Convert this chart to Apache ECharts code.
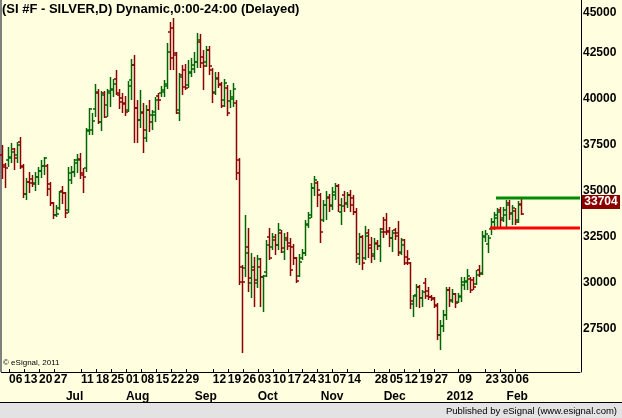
<!DOCTYPE html>
<html><head><meta charset="utf-8">
<script src="https://cdn.jsdelivr.net/npm/echarts@6/dist/echarts.min.js"></script>
<style>html,body{margin:0;padding:0;background:#FFFFE0;}#c{width:622px;height:418px;}</style>
</head><body><div id="c"></div>
<script>
const titleText = '(SI #F - SILVER,D) Dynamic,0:00-24:00 (Delayed)';
const footerText = 'Published by eSignal (www.esignal.com)';
const copyrightText = '\u00A9 eSignal, 2011';

const open = [36919,36375,36647,36756,37245,36919,37626,36267,34799,35452,
35615,35397,35723,36049,36321,36321,35343,34310,33658,34038,
34962,34853,33930,35560,35995,36484,36701,35941,36212,38278,
38278,39419,40289,38712,40289,39636,40397,40452,41049,40180,
40017,39691,39365,40995,41810,39473,38821,39202,37843,39365,
39093,39093,40125,40289,40343,40669,43604,43821,42354,39365,
41267,41539,40723,41376,41593,41973,43060,42245,41973,42626,
41539,40343,41104,40723,39908,40560,39854,40071,39745,35941,
30832,30777,31919,29962,30669,29962,30832,30288,30560,32462,
31919,32299,32027,32679,31647,32408,32136,31919,31320,30342,
31320,31592,33169,33658,35125,35397,34745,33386,34202,34582,
34202,34745,35234,33821,34745,34256,34745,34582,33821,31320,
32462,31320,32679,32027,31538,32136,31973,32897,33386,32788,
32408,32842,32679,31647,32299,31375,31049,28821,29310,29745,
29147,29962,29527,29201,29147,28766,27136,27625,28223,29582,
28984,29364,28929,29201,29853,30016,30179,30125,29908,30669,
30506,32462,32082,32897,33277,33495,33930,33495,33658,34310,
33712,33875,33386,34256];
const high = [37462,36484,37354,37571,37299,37626,37897,36430,35669,35995,
35832,35995,36267,36647,36810,36430,35452,34365,34202,34962,
35234,34908,36267,36321,36701,36973,37027,36212,38386,39473,
39202,40778,40506,40397,40397,40506,41158,41049,41539,40506,
40289,40125,40941,42136,42354,39908,40452,39745,39636,39908,
39365,40071,40289,40669,40995,43006,44147,44365,42517,41376,
41810,41865,42082,42191,42517,43550,43495,42626,42843,42843,
41647,41430,41430,40886,41049,40723,40452,40832,39908,36756,
30940,33658,32951,31592,31375,31484,31320,30397,32299,32951,
32679,32625,33223,32842,32679,32734,32408,32082,31375,31538,
31810,33386,33821,35397,35777,35506,34853,34473,34962,34799,
35180,35397,35343,34582,34962,34908,35017,34745,34038,32679,
32571,33060,32897,32462,32408,32299,32951,33549,33766,33005,
32842,32951,33332,32408,32353,31756,31103,29310,29908,29853,
29582,30234,29745,29310,29201,28875,27951,28495,29745,29745,
29636,29418,29418,30288,30288,30723,30288,30288,30669,30940,
32788,32842,32571,33495,33821,34038,34093,34093,34473,34473,
34202,34038,34419,34582];
const low = [35615,35125,36267,36484,36104,36484,36158,34582,34473,34853,
35180,34962,35288,35669,35832,34690,34147,33440,33549,33930,
34256,33495,33766,35343,35723,35941,35615,34853,35995,38006,
38006,38984,38604,38223,38930,38984,39528,40071,40180,39419,
39202,39039,39256,39908,37571,37571,38386,37027,37626,38169,
38278,38712,39365,40071,40071,40506,41539,41539,39147,38767,
40180,40452,40560,41158,41376,41647,41647,40452,41702,41267,
39745,40180,40560,39473,39528,39039,39473,39528,35560,29853,
26150,30288,29473,29147,28658,29690,28658,28386,30288,31212,
31756,31484,31756,31592,31212,31756,30342,30940,29962,30288,
31212,31429,32951,33495,34690,34093,32136,33277,33386,33821,
33930,34473,33821,33114,33821,34038,33821,33658,31049,30940,
30669,31212,31320,31049,31212,31756,31103,32408,32571,31919,
31647,32299,31429,31484,30940,30940,28549,28114,28658,28603,
28658,29092,29038,28984,28603,26864,26321,27299,27951,28658,
28875,28603,28875,28929,29582,29582,29418,29582,29853,30288,
30397,32190,31592,32571,32842,33005,33005,33277,33005,33386,
33114,33114,33223,33658];
const close = [36267,36212,36810,37082,36756,37462,36321,34799,35452,35397,
35343,35723,36049,36321,36756,35071,34310,33658,33712,34908,
34853,33766,35941,35995,36647,36647,35832,35723,38223,39419,
38767,40343,38712,40180,38984,40289,40506,40778,40289,39799,
39745,39256,40669,41810,39473,38821,39256,38278,39365,38712,
39256,39908,39908,40452,40778,42517,42191,42462,39202,41158,
40615,40560,41430,41810,41973,43169,41919,41756,42626,41756,
40289,41049,40778,39582,40832,39202,39962,40506,36647,30016,
30016,31592,30234,30832,30125,31266,30288,30342,32027,31320,
32462,32027,32842,31864,32299,31973,30669,31320,30071,31103,
31592,33114,33495,35125,35560,35017,32734,34202,34636,34147,
34908,35234,34202,34147,34310,34745,34202,33821,31538,32462,
31049,32516,31864,31429,32082,31973,32734,32734,32734,32408,
32679,32516,31592,32027,31049,31266,28984,29255,29745,29147,
29473,29255,29201,29092,28712,27136,27625,28223,29582,29038,
29364,28875,29255,30016,30071,30342,29582,29745,30397,30451,
32516,32625,32408,33277,33658,33821,33386,33930,34202,33766,
34038,33277,34202,33704];

const weekTickIdx = [2,7,12,17,26,31,36,41,46,51,56,61,70,75,80,85,90,95,100,105,110,115,124,129,134,139,144,152,161,166,171];
const weekTickLabels = ['06','13','20','27','11','18','25','01','08','15','22','29','12','19','26','03','10','17','24','31','07','14','28','05','12','19','27','09','23','30','06'];
const monthTickIdx = [21,41,64,85,106,127,148,168];
const monthTickLabels = ['Jul','Aug','Sep','Oct','Nov','Dec','2012','Feb'];
const yTickValues = [27500,30000,32500,35000,37500,40000,42500,45000];

const levelStart = [165,163];
const levelPrice = [34582,32951];
const levelColor = ['#008C00','#FF0000'];
const lastPrice = 33704;

const slotCount = 193;
const UP = '#006400', DOWN = '#8B0000';
const FONT = 'Liberation Sans, Arial, sans-serif';

const categories = Array.from({length: slotCount}, (_, i) => String(i));
const weekMap = {}; weekTickIdx.forEach((k, j) => weekMap[k] = weekTickLabels[j]);
const monthMap = {}; monthTickIdx.forEach((k, j) => monthMap[k] = monthTickLabels[j]);
const ohlc = open.map((o, i) => [i, o, high[i], low[i], close[i]]);
const levels = levelStart.map((s, j) => [s, levelPrice[j], j]);

const chart = echarts.init(document.getElementById('c'), null, {renderer: 'canvas'});
chart.setOption({
  backgroundColor: '#FFFFE0',
  animation: false,
  title: {text: titleText, left: 2, top: 3, padding: 0,
    textStyle: {fontFamily: FONT, fontSize: 13, fontWeight: 'bold', color: '#000'}},
  grid: {left: 1, top: 0, width: 579, height: 372, containLabel: false},
  xAxis: [{
    type: 'category', data: categories, boundaryGap: true,
    axisLine: {show: true, lineStyle: {color: '#000', width: 1}},
    axisTick: {show: true, inside: true, length: 3, alignWithLabel: true,
      interval: (i) => weekMap[i] !== undefined, lineStyle: {color: '#000'}},
    axisLabel: {show: true, interval: 0, align: 'left', margin: 2, hideOverlap: false,
      fontFamily: FONT, fontSize: 12, fontWeight: 'bold', color: '#000',
      formatter: (v, i) => weekMap[i] || ''},
    splitLine: {show: false}
  }, {
    type: 'category', data: categories, boundaryGap: true, position: 'bottom', offset: 17,
    gridIndex: 0,
    axisLine: {show: false}, axisTick: {show: false},
    axisLabel: {show: true, interval: 0, align: 'left', margin: 2, hideOverlap: false,
      fontFamily: FONT, fontSize: 12, fontWeight: 'bold', color: '#000',
      formatter: (v, i) => monthMap[i] || ''},
    splitLine: {show: false}
  }],
  yAxis: {
    type: 'value', position: 'right', min: 25125, max: 45343, scale: true, offset: 1,
    axisLine: {show: true, lineStyle: {color: '#000', width: 1}},
    axisTick: {show: false},
    splitLine: {show: false},
    axisLabel: {show: true, margin: 2, customValues: yTickValues,
      formatter: (v) => String(v),
      verticalAlignMaxLabel: 'top',
      fontFamily: FONT, fontSize: 12, fontWeight: 'bold', color: '#000'}
  },
  series: [{
    type: 'custom', xAxisIndex: 0, yAxisIndex: 0,
    data: ohlc,
    encode: {x: 0, y: [1, 2, 3, 4]},
    renderItem: (params, api) => {
      const i = api.value(0), o = api.value(1), h = api.value(2), l = api.value(3), c = api.value(4);
      const pH = api.coord([i, h]), pL = api.coord([i, l]);
      const pO = api.coord([i, o]), pC = api.coord([i, c]);
      const x = Math.floor(pH[0]) + 0.5;
      const color = c >= o ? UP : DOWN;
      const yo = Math.round(pO[1]), yc = Math.round(pC[1]);
      return {type: 'group', children: [
        {type: 'rect', shape: {x: x - 0.75, y: Math.round(pH[1]), width: 1.5, height: Math.max(1, Math.round(pL[1]) - Math.round(pH[1]))}, style: {fill: color}},
        {type: 'rect', shape: {x: x - 2.5, y: yo - 0.75, width: 2, height: 1.5}, style: {fill: color}},
        {type: 'rect', shape: {x: x + 0.5, y: yc - 0.75, width: 2, height: 1.5}, style: {fill: color}}
      ]};
    }
  }, {
    type: 'custom', xAxisIndex: 0, yAxisIndex: 0,
    data: levels,
    encode: {x: 0, y: 1},
    renderItem: (params, api) => {
      const p = api.coord([api.value(0), api.value(1)]);
      const right = params.coordSys.x + params.coordSys.width;
      const y = Math.round(p[1]);
      return {type: 'rect', shape: {x: Math.floor(p[0]) - 1, y: y - 1.5, width: right - Math.floor(p[0]) + 1, height: 3},
        style: {fill: levelColor[api.value(2)]}};
    }
  }]
});

const yLast = chart.convertToPixel({yAxisIndex: 0}, lastPrice);
chart.setOption({
  graphic: [
    {type: 'rect', shape: {x: 0, y: 0, width: 2, height: 372}, style: {fill: '#808080'}, silent: true},
    {type: 'text', left: 3, top: 359, style: {text: copyrightText, font: '8px ' + FONT, fill: '#000'}},
    {type: 'rect', shape: {x: 582, y: Math.round(yLast) - 12 - 7, width: 38, height: 14}, style: {fill: '#8B0000'}},
    {type: 'text', x: 601, y: Math.round(yLast) - 12, style: {text: String(lastPrice), font: 'bold 12px ' + FONT, fill: '#FFFFFF', align: 'center', verticalAlign: 'middle'}},
    {type: 'rect', shape: {x: 0, y: 403, width: 622, height: 15}, style: {fill: '#E3E3E3'}},
    {type: 'rect', shape: {x: 0, y: 402, width: 622, height: 1}, style: {fill: '#000'}},
    {type: 'text', x: 617, y: 411, style: {text: footerText, font: '9.5px ' + FONT, fill: '#000', align: 'right', verticalAlign: 'middle'}}
  ]
});
</script></body></html>
